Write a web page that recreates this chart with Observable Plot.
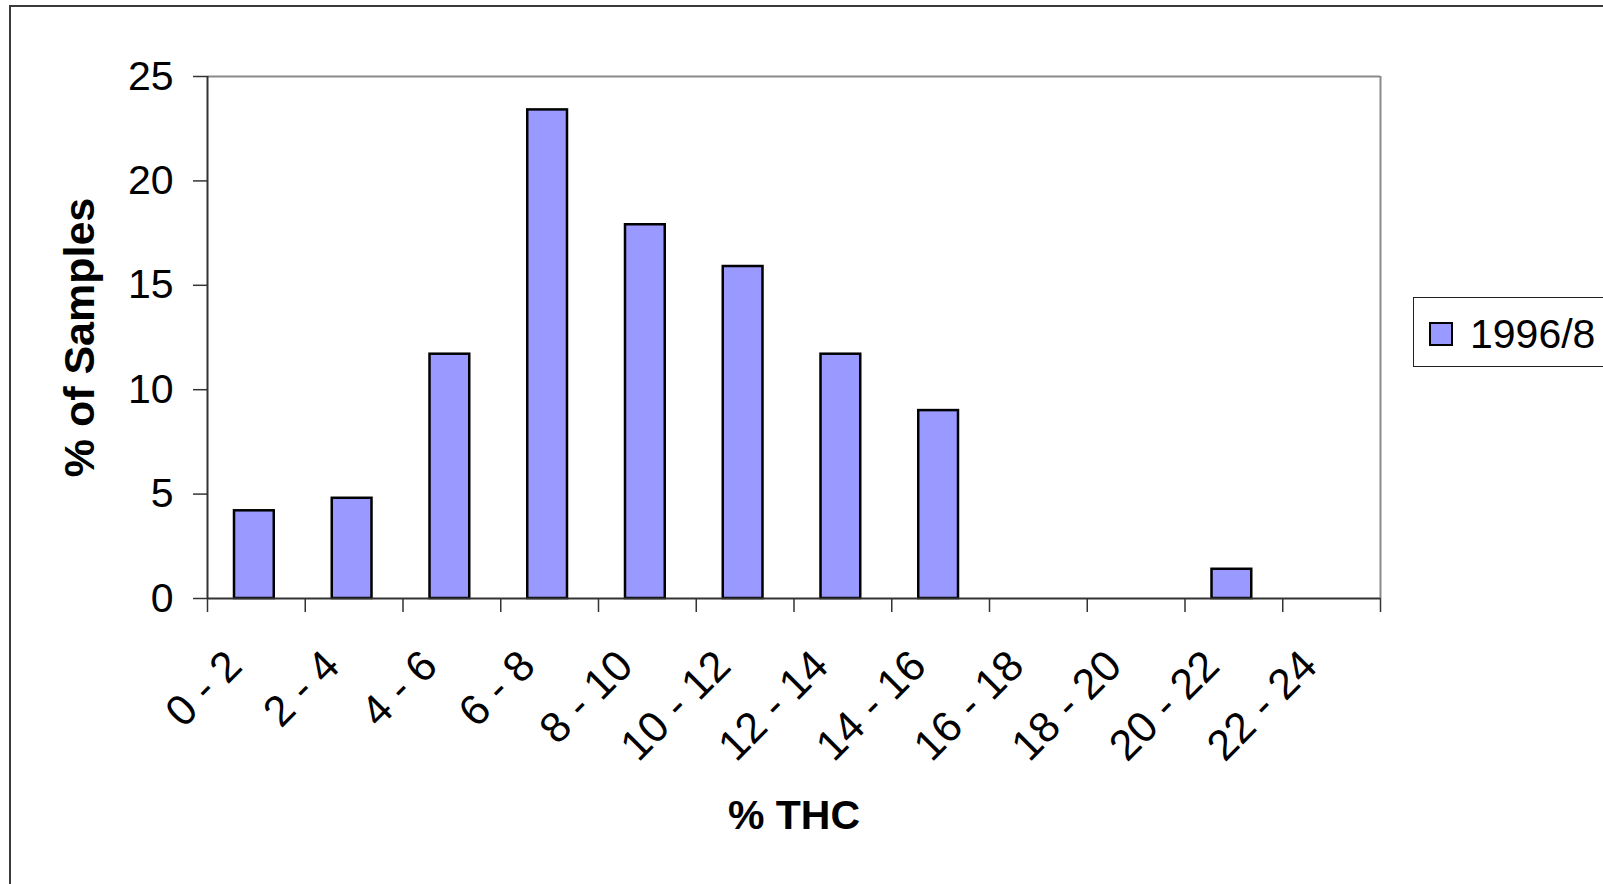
<!DOCTYPE html>
<html>
<head>
<meta charset="utf-8">
<script src="https://cdn.jsdelivr.net/npm/d3@7"></script>
<script src="https://cdn.jsdelivr.net/npm/@observablehq/plot@0.6"></script>
<style>
  html, body { margin: 0; padding: 0; background: #fff; }
  #stage {
    position: relative; width: 1603px; height: 884px; overflow: hidden;
    font-family: "Liberation Sans", Arial, Helvetica, sans-serif;
  }
  #chart-border {
    position: absolute; left: 9px; top: 5px; width: 1700px; height: 1000px;
    border: 2px solid #3a3a3a; box-sizing: border-box;
  }
  #chart { position: absolute; left: 0; top: 0; }
  #legend {
    position: absolute; left: 1413px; top: 297px; width: 260px; height: 70px;
    border: 1.5px solid #222; box-sizing: border-box; background: #fff;
  }
  #legend .swatch {
    position: absolute; left: 15px; top: 24px; width: 24px; height: 24px;
    background: #9999ff; border: 2px solid #000; box-sizing: border-box;
  }
  #legend .name {
    position: absolute; left: 56px; top: 36px; transform: translateY(-50%);
    font-size: 41px; line-height: 1; color: #000;
  }
</style>
</head>
<body>
<div id="stage">
  <div id="chart-border"></div>
  <div id="chart"></div>
  <div id="legend"><div class="swatch"></div><div class="name"></div></div>
</div>
<script>
// THC potency classes (% THC) and the share of samples falling in each
const categories = ["0 - 2", "2 - 4", "4 - 6", "6 - 8", "8 - 10", "10 - 12",
                    "12 - 14", "14 - 16", "16 - 18", "18 - 20", "20 - 22", "22 - 24"];
const binLow  = [0, 2, 4, 6, 8, 10, 12, 14, 16, 18, 20, 22];
const binHigh = [2, 4, 6, 8, 10, 12, 14, 16, 18, 20, 22, 24];
const samples = [4.2, 4.8, 11.7, 23.4, 17.9, 15.9, 11.7, 9.0, 0, 0, 1.4, 0];
const yTicks  = [0, 5, 10, 15, 20, 25];
const seriesName = "1996/8";
const xTitle = "% THC";
const yTitle = "% of Samples";

const rows = categories.map((label, i) => ({
  label, lo: binLow[i], hi: binHigh[i], mid: (binLow[i] + binHigh[i]) / 2, value: samples[i]
}));
const edges = [...binLow, binHigh[binHigh.length - 1]];
const labelAt = new Map(rows.map(d => [d.mid, d.label]));

const font = "Liberation Sans, Arial, Helvetica, sans-serif";

const chart = Plot.plot({
  width: 1603,
  height: 884,
  marginTop: 76,
  marginRight: 223,
  marginBottom: 286,
  marginLeft: 207,
  style: { fontFamily: font, color: "#000", background: "transparent" },
  x: { type: "linear", domain: [0, 24] },
  y: { domain: [0, 25] },
  marks: [
    // plot-area outline (top and right in grey)
    Plot.ruleY([25], { stroke: "#8a8a8a", strokeWidth: 2 }),
    Plot.ruleX([24], { stroke: "#8a8a8a", strokeWidth: 2 }),
    // bars
    Plot.rectY(rows.filter(d => d.value > 0), {
      x1: "lo", x2: "hi", y: "value",
      insetLeft: 27, insetRight: 31,
      fill: "#9999ff", stroke: "#000", strokeWidth: 2.5
    }),
    // axes lines
    Plot.ruleX([0], { stroke: "#333", strokeWidth: 2 }),
    Plot.ruleY([0], { stroke: "#333", strokeWidth: 2 }),
    // y axis
    Plot.axisY({
      ticks: yTicks, tickSize: 14, tickPadding: 20, fontSize: 41,
      stroke: "#333", strokeWidth: 1.5, label: null
    }),
    // x tick marks at class boundaries
    Plot.axisX({
      ticks: edges, tickSize: 14, tickFormat: () => "",
      stroke: "#333", strokeWidth: 1.5, label: null
    }),
    // x category labels, rotated
    Plot.axisX({
      ticks: rows.map(d => d.mid), tickSize: 0, tickPadding: 60, dx: -22,
      tickRotate: -45, fontSize: 43,
      tickFormat: d => labelAt.get(d), label: null
    }),
    // axis titles
    Plot.text([yTitle], {
      text: d => d, frameAnchor: "left", dx: -127, rotate: -90,
      textAnchor: "middle", lineAnchor: "middle",
      fontSize: 43, fontWeight: "bold"
    }),
    Plot.text([xTitle], {
      text: d => d, frameAnchor: "bottom", dy: 217,
      textAnchor: "middle", lineAnchor: "middle",
      fontSize: 41, fontWeight: "bold"
    })
  ]
});

document.getElementById("chart").appendChild(chart);
document.querySelector("#legend .name").textContent = seriesName;
</script>
</body>
</html>
